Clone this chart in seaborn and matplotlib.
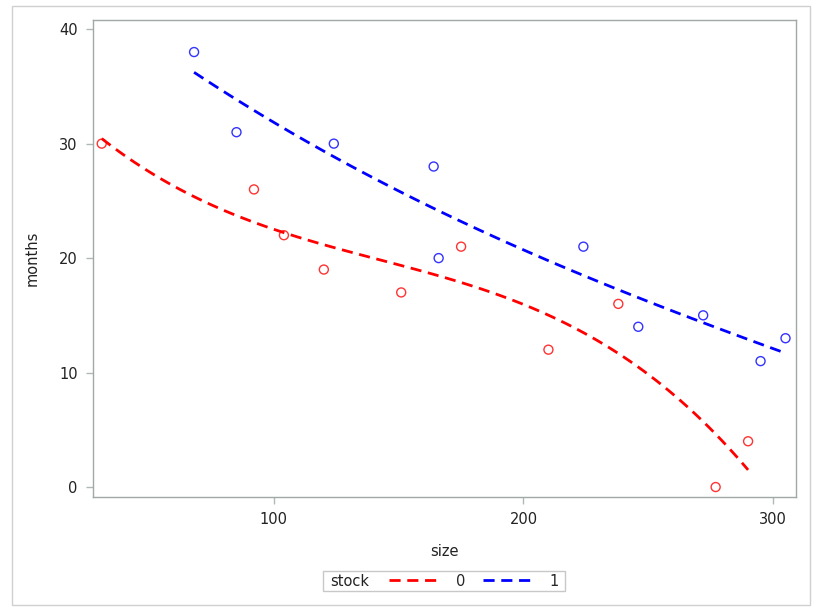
import matplotlib
matplotlib.use("Agg")
import matplotlib.pyplot as plt
from matplotlib.lines import Line2D
from matplotlib.patches import Rectangle
import pandas as pd
import seaborn as sns

# stock = 0
size_0 = [31, 92, 104, 120, 151, 175, 210, 238, 277, 290]
months_0 = [30, 26, 22, 19, 17, 21, 12, 16, 0, 4]
# stock = 1
size_1 = [68, 85, 124, 164, 166, 224, 246, 272, 295, 305]
months_1 = [38, 31, 30, 28, 20, 21, 14, 15, 11, 13]

stock_levels = ["0", "1"]
stock_colors = {"0": "#FF0000", "1": "#0000FF"}

df = pd.DataFrame({
    "size": size_0 + size_1,
    "months": months_0 + months_1,
    "stock": ["0"] * len(size_0) + ["1"] * len(size_1),
})

sns.set_theme(style="white")
plt.rcParams["font.family"] = ["DejaVu Sans"]

fig = plt.figure(figsize=(8.15, 6.07), dpi=100)
ax = fig.add_axes([93 / 815, 1 - 497 / 607, 703 / 815, 477 / 607])

dash = (4, 2.4)
for lvl in stock_levels:
    sub = df[df["stock"] == lvl]
    col = stock_colors[lvl]
    sns.regplot(
        data=sub, x="size", y="months", ax=ax, order=3, ci=None,
        truncate=True,
        scatter_kws={"facecolors": "none", "edgecolors": col, "s": 42,
                     "linewidths": 1.0, "zorder": 3},
        line_kws={"color": col, "lw": 2.0, "dashes": dash, "zorder": 2},
        color=col,
    )

ax.set_xlim(27.5, 309.2)
ax.set_ylim(-0.87, 40.8)
ax.set_xticks([100, 200, 300])
ax.set_yticks([0, 10, 20, 30, 40])
ax.set_xlabel("size", fontsize=10.5, color="#222222", labelpad=12)
ax.set_ylabel("months", fontsize=10.5, color="#222222", labelpad=14)

for sp in ax.spines.values():
    sp.set_color("#A0A8A8")
    sp.set_linewidth(1.0)
ax.tick_params(axis="both", which="both", direction="out", length=5, width=1,
               color="#B0B8B8", labelsize=10.5, labelcolor="#222222",
               bottom=True, left=True, pad=6)

# legend box along the bottom
fig.patches.append(Rectangle((323 / 815, 1 - 591 / 607), 242 / 815, 20 / 607,
                             transform=fig.transFigure, fill=False,
                             edgecolor="#C8C8C8", lw=1.0))
fig.text(330 / 815, 1 - 581 / 607, "stock", fontsize=10.5, color="#222222",
         ha="left", va="center")
handles = [Line2D([], [], color=stock_colors[l], lw=2.0, dashes=dash)
           for l in stock_levels]
fig.legend(handles, stock_levels, loc="center", bbox_to_anchor=(474 / 815, 1 - 581 / 607),
           ncol=2, frameon=False, fontsize=10.5, handlelength=3.5,
           handletextpad=1.1, columnspacing=1.2, borderpad=0)

# outer border
fig.patches.append(Rectangle((12 / 815, 1 - 605 / 607), 798 / 815, 599 / 607,
                             transform=fig.transFigure, fill=False,
                             edgecolor="#D0D0D0", lw=1.0))

fig.savefig("out.png", dpi=100)
